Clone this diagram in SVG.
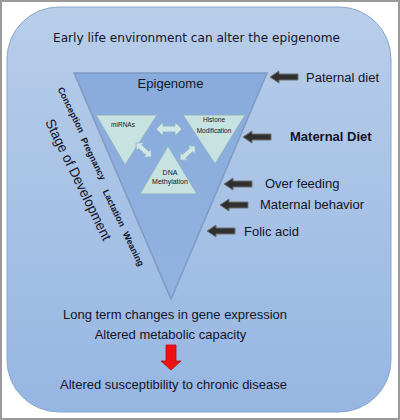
<svg xmlns="http://www.w3.org/2000/svg" width="400" height="420" viewBox="0 0 400 420">
<defs>
<linearGradient id="bg" x1="0" y1="0" x2="0" y2="1">
<stop offset="0" stop-color="#b8cee9"/>
<stop offset="1" stop-color="#96b6e2"/>
</linearGradient>
<linearGradient id="tri" x1="0" y1="0" x2="0" y2="1">
<stop offset="0" stop-color="#89abdc"/>
<stop offset="1" stop-color="#92b3e0"/>
</linearGradient>
<polygon id="darr" points="0,0 9,-6 9,-3 28,-3 28,3 9,3 9,6"/>
<polygon id="dbl" points="0,0 7,-7 7,-3 19,-3 19,-7 26,0 19,7 19,3 7,3 7,7"/>
</defs>
<style>
.t{font-family:"Liberation Sans",Arial,sans-serif;fill:#141428}
.c{text-anchor:middle}
.s{font-size:13px}
.b{font-weight:bold}
.small{font-size:6.5px}
.r{font-size:9px;font-weight:bold}
.inner{fill:#c6e3e2;stroke:#8fb2c2;stroke-width:1}
.dbl{fill:#cfe7e6;stroke:#8fb2c2;stroke-width:1}
.dark{fill:#303030;stroke:#707070;stroke-width:1}
</style>
<rect x="1" y="1" width="398" height="418" fill="#ffffff" stroke="#9a9a9a" stroke-width="2"/>
<rect x="7" y="7" width="384" height="405" rx="52" ry="52" fill="url(#bg)" stroke="#8ba6cc" stroke-width="1"/>
<text class="t" x="196.5" y="42" text-anchor="middle" font-family="'DejaVu Sans',sans-serif" style="font-family:'DejaVu Sans',sans-serif;font-size:12.5px" textLength="287" lengthAdjust="spacingAndGlyphs">Early life environment can alter the epigenome</text>

<g id="epigenome">
<polygon points="74,73 267,73 171,299" fill="url(#tri)" stroke="#7e9bc3" stroke-width="1.5"/>
<text class="t s c" x="170.5" y="88">Epigenome</text>
</g>

<g id="mirnas">
<polygon class="inner" points="96,115 157,115 125,165"/>
<text class="t small c" x="123" y="127">miRNAs</text>
</g>
<g id="histone">
<polygon class="inner" points="183,115 245,115 215,164"/>
<text class="t small c" x="214" y="122">Histone</text>
<text class="t small c" x="214" y="133">Modification</text>
</g>
<g id="dna">
<polygon class="inner" points="168,146 140,194 197,194"/>
<text class="t c" x="170" y="175" style="font-size:7px">DNA</text>
<text class="t c" x="170" y="184" style="font-size:7px">Methylation</text>
</g>

<g id="connectors">
<use href="#dbl" class="dbl" transform="translate(156,129)"/>
<use href="#dbl" class="dbl" transform="translate(136,143) rotate(42) scale(0.8)"/>
<use href="#dbl" class="dbl" transform="translate(180,160) rotate(-42) scale(0.8)"/>
<use href="#darr" class="dark" transform="translate(270,77)"/>
<use href="#darr" class="dark" transform="translate(243,137)"/>
<use href="#darr" class="dark" transform="translate(224,184)"/>
<use href="#darr" class="dark" transform="translate(220,205)"/>
<use href="#darr" class="dark" transform="translate(207,231)"/>
<polygon points="166,345 176,345 176,361 181,361 171,370 161,361 166,361" fill="#ee1111" stroke="#b01010" stroke-width="0.8"/>
</g>

<g id="factors">
<text class="t s" x="306" y="81.5">Paternal diet</text>
<text class="t s b" x="290" y="141">Maternal Diet</text>
<text class="t s" x="265" y="188">Over feeding</text>
<text class="t s" x="260" y="208.5">Maternal behavior</text>
<text class="t s" x="244" y="236">Folic acid</text>
</g>

<g id="stages">
<text class="t r" transform="translate(57.5,89) rotate(64)">Conception</text>
<text class="t r" transform="translate(80.5,139.5) rotate(64)">Pregnancy</text>
<text class="t r" transform="translate(102.5,191.5) rotate(64)">Lactation</text>
<text class="t r" transform="translate(122.5,233.5) rotate(64)">Weaning</text>
<text class="t" style="font-size:14px" transform="translate(45,122) rotate(64)" textLength="133" lengthAdjust="spacingAndGlyphs">Stage of Development</text>
</g>

<g id="outcomes">
<text class="t s c" x="175" y="319">Long term changes in gene expression</text>
<text class="t s c" x="170.5" y="339">Altered metabolic capacity</text>
<text class="t s c" x="173.5" y="389">Altered susceptibility to chronic disease</text>
</g>
</svg>
